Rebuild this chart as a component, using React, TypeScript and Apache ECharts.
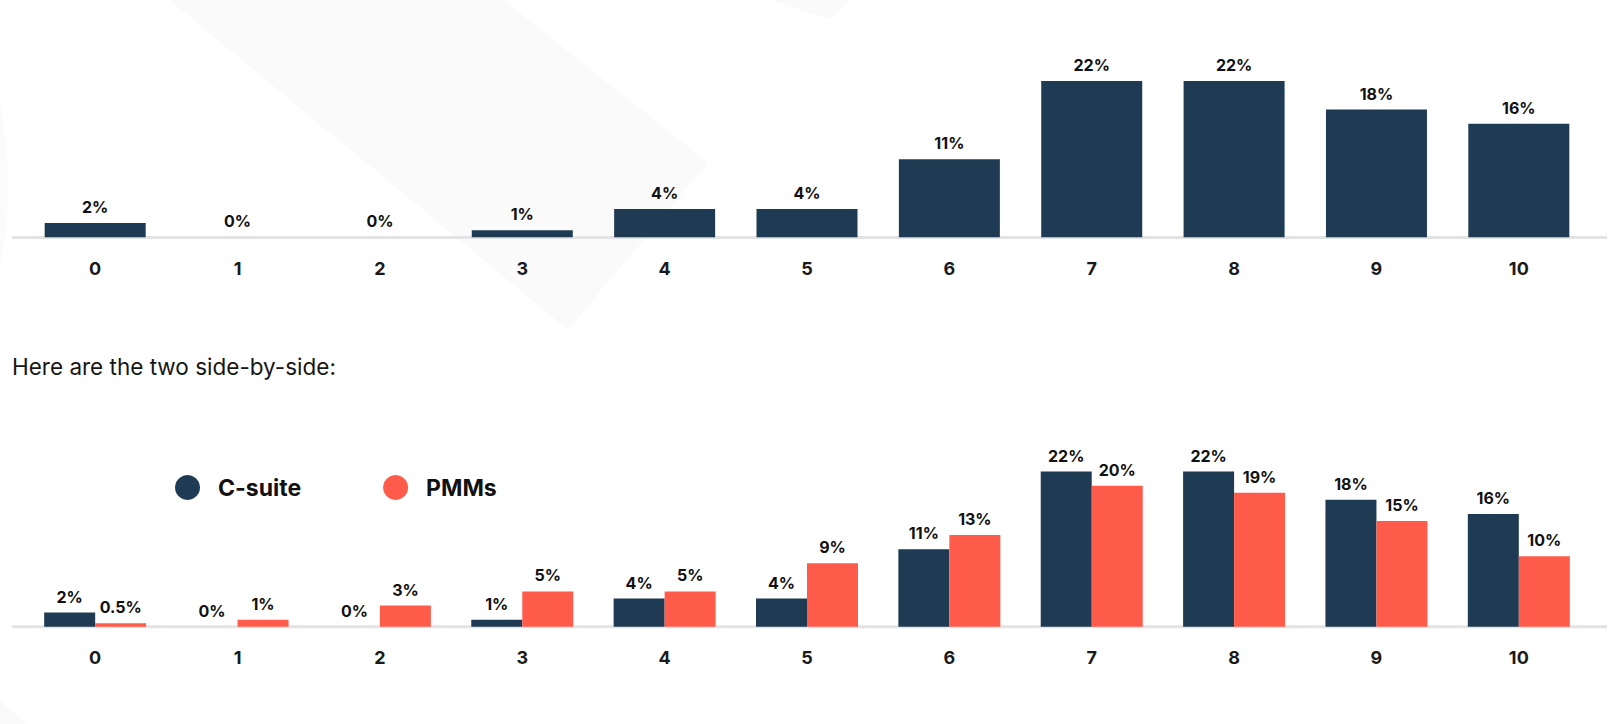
import React, { useEffect, useRef } from "react";
import * as echarts from "echarts";

const categories = ["0", "1", "2", "3", "4", "5", "6", "7", "8", "9", "10"];
const cSuite = [2, 0, 0, 1, 4, 4, 11, 22, 22, 18, 16];
const pmms = [0.5, 1, 3, 5, 5, 9, 13, 20, 19, 15, 10];
const legendNames = ["C-suite", "PMMs"];
const subtitle = "Here are the two side-by-side:";

const NAVY = "#1e3b53";
const CORAL = "#ff5b4b";
const FONT = "Inter, 'Open Sans', sans-serif";

export default function App() {
  const ref = useRef<HTMLDivElement>(null);

  useEffect(() => {
    if (!ref.current) return;
    const chart = echarts.init(ref.current, null, { renderer: "svg" });

    const dataLabel = {
      show: true,
      position: "top",
      distance: 8,
      formatter: "{c}%",
      fontSize: 16,
      fontWeight: "bold",
      fontFamily: FONT,
      color: "#111",
    };

    const xAxisBase = {
      type: "category",
      data: categories,
      axisLine: { show: false },
      axisTick: { show: false },
      axisLabel: {
        margin: 22,
        fontSize: 18,
        fontWeight: "bold",
        fontFamily: FONT,
        color: "#1a1a1a",
      },
    };

    chart.setOption({
      animation: false,
      backgroundColor: "#ffffff",
      grid: [
        { left: 24, right: 30, top: 24.3, height: 213 },
        { left: 24, right: 30, top: 415.2, height: 211.5 },
      ],
      xAxis: [
        { ...xAxisBase, gridIndex: 0 },
        { ...xAxisBase, gridIndex: 1 },
      ],
      yAxis: [
        { type: "value", gridIndex: 0, min: 0, max: 30, show: false },
        { type: "value", gridIndex: 1, min: 0, max: 30, show: false },
      ],
      legend: {
        data: legendNames,
        left: 170,
        top: 470,
        icon: "circle",
        itemWidth: 25,
        itemHeight: 25,
        itemGap: 82,
        textStyle: {
          fontSize: 23,
          fontWeight: "bold",
          fontFamily: FONT,
          color: "#111",
          padding: [0, 0, 0, 13],
        },
      },
      graphic: [
        {
          type: "polygon",
          z: 0,
          silent: true,
          shape: { points: [[169, 0], [504, 0], [708, 163], [568, 330]] },
          style: { fill: "#fafafa" },
        },
        {
          type: "polygon",
          z: 0,
          silent: true,
          shape: { points: [[772, 0], [850, 0], [830, 20]] },
          style: { fill: "#fafafa" },
        },
        {
          type: "circle",
          z: 0,
          silent: true,
          shape: { cx: -420, cy: 185, r: 428 },
          style: { fill: "#fbfbfb" },
        },
        {
          type: "polygon",
          z: 0,
          silent: true,
          shape: { points: [[0, 700], [0, 724], [26, 724]] },
          style: { fill: "#fafafa" },
        },
        {
          type: "line",
          z: 1,
          silent: true,
          shape: { x1: 12, y1: 237.5, x2: 1607, y2: 237.5 },
          style: { stroke: "#e3e3e3", lineWidth: 3 },
        },
        {
          type: "line",
          z: 1,
          silent: true,
          shape: { x1: 12, y1: 626.7, x2: 1607, y2: 626.7 },
          style: { stroke: "#e3e3e3", lineWidth: 3 },
        },
        {
          type: "text",
          z: 5,
          x: 12,
          y: 366,
          style: {
            text: subtitle,
            fontSize: 22.5,
            fontFamily: FONT,
            fill: "#161616",
            verticalAlign: "middle",
          },
        },
      ],
      series: [
        {
          type: "bar",
          name: "C-suite overall",
          xAxisIndex: 0,
          yAxisIndex: 0,
          data: cSuite,
          barWidth: 101,
          z: 2,
          itemStyle: { color: NAVY },
          label: dataLabel,
        },
        {
          type: "bar",
          name: legendNames[0],
          xAxisIndex: 1,
          yAxisIndex: 1,
          data: cSuite,
          barWidth: 51,
          barGap: "0%",
          z: 2,
          itemStyle: { color: NAVY },
          label: dataLabel,
        },
        {
          type: "bar",
          name: legendNames[1],
          xAxisIndex: 1,
          yAxisIndex: 1,
          data: pmms,
          barWidth: 51,
          barGap: "0%",
          z: 2,
          itemStyle: { color: CORAL },
          label: dataLabel,
        },
      ],
    });

    return () => chart.dispose();
  }, []);

  return (
    <div
      ref={ref}
      style={{ position: "fixed", left: 0, top: 0, width: 1620, height: 724 }}
    />
  );
}
